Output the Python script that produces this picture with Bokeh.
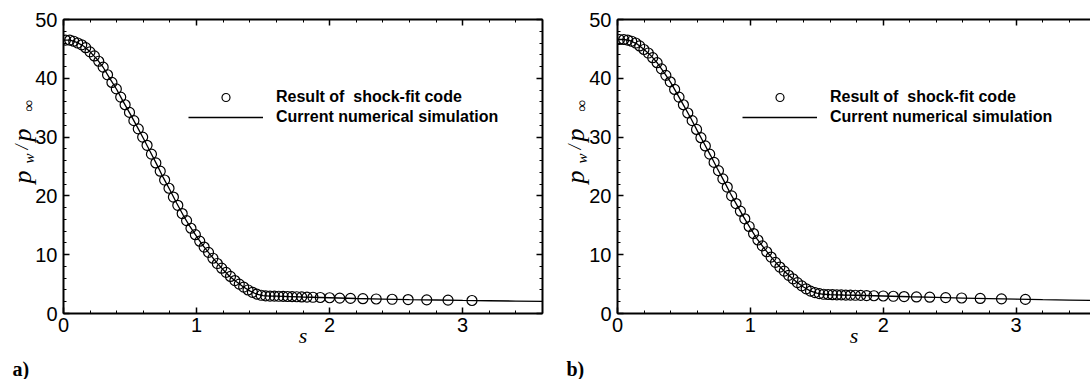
from math import pi

from bokeh.core.properties import value
from bokeh.embed import file_html
from bokeh.layouts import row
from bokeh.models import (CustomJSTickFormatter, Legend, LegendItem,
                          LinearAxis, Range1d, SingleIntervalTicker)
from bokeh.plotting import figure
from bokeh.resources import INLINE

# Surface coordinate of the shock-fitting grid points
s_fit = [0.015, 0.047, 0.077, 0.107, 0.137, 0.167, 0.199, 0.232, 0.265, 0.298,
         0.331, 0.364, 0.397, 0.430, 0.463, 0.496, 0.529, 0.562, 0.595, 0.628,
         0.661, 0.694, 0.727, 0.760, 0.793, 0.826, 0.859, 0.892, 0.925, 0.958,
         0.991, 1.024, 1.057, 1.090, 1.123, 1.156, 1.189, 1.222, 1.255, 1.288,
         1.321, 1.354, 1.387, 1.420, 1.453, 1.486, 1.519, 1.552, 1.585, 1.618,
         1.651, 1.684, 1.718, 1.753, 1.790, 1.830, 1.875, 1.930, 2.000, 2.076,
         2.157, 2.250, 2.350, 2.470, 2.590, 2.730, 2.890, 3.070]

# Wall pressure ratio, shock-fit code, case a)
pw_fit_a = [46.5, 46.5, 46.3, 46.0, 45.7, 45.2, 44.5, 43.8, 42.9, 41.9,
            40.6, 39.3, 38.2, 36.8, 35.5, 34.2, 32.8, 31.4, 30.0, 28.6,
            27.1, 25.6, 24.2, 22.7, 21.3, 19.8, 18.4, 17.0, 15.8, 14.5,
            13.4, 12.3, 11.3, 10.4, 9.4, 8.5, 7.7, 7.0, 6.3, 5.6,
            5.0, 4.5, 4.0, 3.6, 3.3, 3.1, 3.0, 2.97, 2.95, 2.93,
            2.91, 2.89, 2.87, 2.85, 2.82, 2.79, 2.76, 2.72, 2.68, 2.62,
            2.57, 2.52, 2.47, 2.42, 2.37, 2.32, 2.27, 2.21]

# Wall pressure ratio, shock-fit code, case b)
pw_fit_b = [46.6, 46.6, 46.5, 46.3, 46.0, 45.5, 44.9, 44.3, 43.5, 42.65,
            41.6, 40.5, 39.4, 38.1, 36.8, 35.5, 34.1, 32.8, 31.3, 29.9,
            28.5, 27.1, 25.7, 24.3, 22.9, 21.5, 20.0, 18.7, 17.4, 16.1,
            14.8, 13.6, 12.5, 11.5, 10.5, 9.6, 8.7, 7.9, 7.2, 6.5,
            5.9, 5.25, 4.7, 4.2, 3.8, 3.55, 3.38, 3.27, 3.23, 3.2,
            3.18, 3.16, 3.14, 3.12, 3.1, 3.08, 3.05, 3.02, 2.98, 2.93,
            2.88, 2.82, 2.77, 2.7, 2.64, 2.56, 2.49, 2.4]

# Surface coordinate of the current simulation output
s_sim = [0.00, 0.05, 0.10, 0.15, 0.20, 0.25, 0.30, 0.35, 0.40, 0.45,
         0.50, 0.55, 0.60, 0.65, 0.70, 0.75, 0.80, 0.85, 0.90, 0.95,
         1.00, 1.05, 1.10, 1.15, 1.20, 1.25, 1.30, 1.35, 1.40, 1.45,
         1.50, 1.55, 1.60, 1.65, 1.70, 1.80, 2.00, 2.20, 2.40, 2.60,
         2.80, 3.00, 3.20, 3.40, 3.60]

pw_sim_a = [46.5, 46.5, 46.1, 45.5, 44.5, 43.3, 41.8, 39.9, 38.1, 36.0,
            34.0, 31.9, 29.8, 27.6, 25.4, 23.1, 21.0, 18.8, 16.7, 14.8,
            13.1, 11.5, 10.1, 8.7, 7.45, 6.3, 5.4, 4.55, 3.85, 3.3,
            3.05, 2.97, 2.94, 2.91, 2.88, 2.81, 2.68, 2.55, 2.46, 2.37,
            2.30, 2.23, 2.17, 2.11, 2.05]

pw_sim_b = [46.6, 46.6, 46.35, 45.8, 44.9, 43.9, 42.6, 41.0, 39.3, 37.3,
            35.3, 33.3, 31.1, 29.0, 26.9, 24.7, 22.6, 20.4, 18.4, 16.4,
            14.5, 12.7, 11.2, 9.8, 8.45, 7.3, 6.3, 5.3, 4.5, 3.85,
            3.45, 3.27, 3.21, 3.18, 3.15, 3.10, 2.98, 2.85, 2.74, 2.63,
            2.52, 2.43, 2.35, 2.28, 2.21]

legend_labels = ["Result of  shock-fit code", "Current numerical simulation"]
panel_tags = ["a)", "b)"]
# pieces of the rotated y title p_w / p_inf
ytitle_text = ["p", "w", "/", "p", "\u221e"]

SANS = "Liberation Sans"
SERIF = "Liberation Serif"
H = 379


def style_axis(ax, ticker, show_labels, standoff=5):
    ax.ticker = ticker
    ax.axis_line_width = 2
    ax.axis_line_color = "black"
    ax.major_tick_in = 6
    ax.major_tick_out = 0
    ax.minor_tick_in = 3
    ax.minor_tick_out = 0
    ax.major_tick_line_width = 1.5
    ax.major_tick_line_color = "black"
    ax.minor_tick_line_width = 1
    ax.minor_tick_line_color = "black"
    if show_labels:
        ax.major_label_text_font = SANS
        ax.major_label_text_font_size = "20px"
        ax.major_label_text_color = "black"
        ax.major_label_standoff = standoff
    else:
        ax.formatter = CustomJSTickFormatter(code="return ''")
        ax.major_label_text_font_size = "0px"
        ax.major_label_standoff = 0


def make_strip(width, x0, tag, tag_x):
    """Pixel-unit strip under the panel's left border: y title and tag."""
    st = figure(width=width, height=H, x_range=Range1d(0, width),
                y_range=Range1d(0, H), x_axis_location=None,
                y_axis_location=None, output_backend="svg",
                toolbar_location=None, min_border=0,
                background_fill_color="white", border_fill_color="white")
    st.frame_align = False
    st.outline_line_alpha = 0
    st.grid.visible = False
    # baseline x and start height (from the page top) of each title piece
    xs = [x0, x0 + 6, x0 - 1, x0, x0 + 6]
    tops = [183, 163, 149, 141, 111]
    sizes = ["26px", "15px", "18px", "26px", "16px"]
    for t, x, y, fs in zip(ytitle_text, xs, tops, sizes):
        st.text(x=[x], y=[H - y], text=[t], angle=pi / 2, text_align="left",
                text_baseline="alphabetic", text_font=value(SERIF),
                text_font_style="italic", text_font_size=fs,
                text_color="black")
    st.text(x=[tag_x], y=[H - 368], text=[tag], text_align="left",
            text_baseline="alphabetic", text_font=value(SERIF),
            text_font_style="bold", text_font_size="20px",
            text_color="black")
    return st


def make_panel(width, left_border, right_border, x_end, pw_fit, pw_sim,
               right_axis, overlap):
    p = figure(width=width, height=H,
               x_range=Range1d(0, x_end), y_range=Range1d(0, 50),
               x_axis_location=None, y_axis_location=None,
               output_backend="svg", toolbar_location=None,
               min_border_left=left_border, min_border_right=right_border,
               min_border_top=19, min_border_bottom=66,
               background_fill_color="white", border_fill_alpha=0,
               margin=(0, 0, 0, -overlap))
    p.frame_align = False
    p.outline_line_alpha = 0
    p.grid.visible = False

    xt = SingleIntervalTicker(interval=1, num_minor_ticks=5)
    yt = SingleIntervalTicker(interval=10, num_minor_ticks=5)

    xb = LinearAxis(axis_label="s")
    style_axis(xb, xt, True, standoff=4)
    xb.axis_label_text_font = SERIF
    xb.axis_label_text_font_style = "italic"
    xb.axis_label_text_font_size = "22px"
    xb.axis_label_text_color = "black"
    xb.axis_label_standoff = -12
    p.add_layout(xb, "below")

    yl = LinearAxis()
    style_axis(yl, yt, True, standoff=6)
    p.add_layout(yl, "left")

    xa = LinearAxis()
    style_axis(xa, xt, False)
    p.add_layout(xa, "above")

    if right_axis:
        yr = LinearAxis()
        style_axis(yr, yt, False)
        p.add_layout(yr, "right")

    ln = p.line(s_sim, pw_sim, line_color="black", line_width=1.3)
    sc = p.scatter(s_fit, pw_fit, marker="circle", size=10,
                   fill_color=None, line_color="black", line_width=1.2)

    legend = Legend(
        items=[LegendItem(label=legend_labels[0], renderers=[sc]),
               LegendItem(label=legend_labels[1], renderers=[ln])],
        location=(125, 186), orientation="vertical",
        glyph_width=75, glyph_height=20, label_height=20,
        spacing=0, padding=0, margin=0, label_standoff=13,
        border_line_alpha=0, background_fill_alpha=0,
        label_text_font=SANS, label_text_font_style="bold",
        label_text_font_size="16px", label_text_color="black")
    p.add_layout(legend)
    return p


# strips span the full left border; panels slide back over them
strip_a = make_strip(61, 22, panel_tags[0], 12)
p1 = make_panel(528, 29, 18, 3.6, pw_fit_a, pw_sim_a, True, 29)
strip_b = make_strip(54, 15, panel_tags[1], 6)
p2 = make_panel(504, 28, 0, 3.56, pw_fit_b, pw_sim_b, False, 28)

layout = row(strip_a, p1, strip_b, p2)
open("out.html", "w").write(file_html(layout, INLINE))
